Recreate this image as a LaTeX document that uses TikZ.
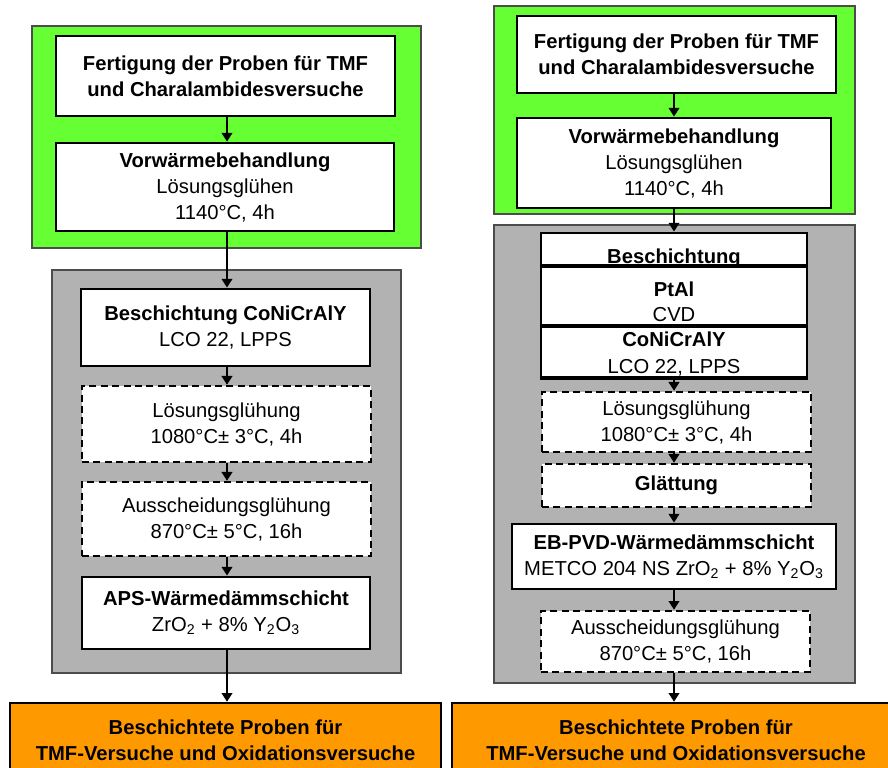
\documentclass[tikz,border=0pt]{standalone}
\usepackage{fontspec}
\setmainfont{Liberation Sans}
\usepackage{xcolor}
\usepackage{tikz}
\usetikzlibrary{arrows.meta}
\usetikzlibrary{shapes}

\definecolor{kastengruen}{HTML}{66FF33}
\definecolor{kastengrau}{HTML}{B2B2B2}
\definecolor{kastenorange}{HTML}{FF9900}

\newcommand{\schrift}{\fontsize{11.5}{14.8}\selectfont}

\tikzset{
  schritt/.style={draw, line width=1.6pt, fill=white, align=center, inner sep=0pt},
  optschritt/.style={schritt, line width=1.4pt, dash pattern=on 4pt off 2.5pt},
  ziel/.style={schritt, line width=1.4pt, fill=kastenorange, font=\schrift\bfseries},
  flow/.style={line width=1.3pt, -{Triangle[length=5pt,width=6pt]}},
  bereich/.style={draw=black!70, line width=0.6pt}
}

\begin{document}
\begin{tikzpicture}[x=0.02cm, y=-0.02cm, font=\schrift]
  \useasboundingbox (0,0) rectangle (888,767);
  \clip (0,0) rectangle (888,767);
  \coordinate (lachse) at (227,0);
  \coordinate (rachse) at (674,0);

        % linke Seite
        \filldraw[bereich, fill=kastengruen] (32,26) rectangle (421,248);
        \filldraw[bereich, fill=kastengrau] (52,270) rectangle (401,673);

        \node[schritt, minimum width=6.78cm, minimum height=1.6cm] (lfert) at (225.5,76)
            {{\bfseries Fertigung der Proben für TMF}\\{\bfseries und Charalambidesversuche}};
        \node[schritt, minimum width=6.76cm, minimum height=1.76cm] (lvor) at (225,187)
            {{\bfseries Vorwärmebehandlung}\\Lösungsglühen\\1140°C, 4h};
        \node[schritt, minimum width=5.78cm, minimum height=1.54cm] (lbes) at (225.5,327.5)
            {{\bfseries Beschichtung CoNiCrAlY}\\LCO 22, LPPS};
        \node[optschritt, minimum width=5.78cm, minimum height=1.52cm] (lloes) at (226.5,424)
            {Lösungsglühung\\1080°C± 3°C, 4h};
        \node[optschritt, minimum width=5.78cm, minimum height=1.48cm] (lauss) at (226.5,519)
            {Ausscheidungsglühung\\870°C± 5°C, 16h};
        \node[schritt, minimum width=5.76cm, minimum height=1.44cm] (laps) at (226,613)
            {{\bfseries APS-Wärmedämmschicht}\\ZrO\textsubscript{2} + 8\% Y\textsubscript{2}O\textsubscript{3}};
        \node[ziel, minimum width=8.62cm, minimum height=1.48cm] (lend) at (225.5,740)
            {Beschichtete Proben für\\TMF-Versuche und Oxidationsversuche};

        \draw[flow] (lfert.south -| lachse) -- (lvor.north -| lachse);
        \draw[flow] (lvor.south -| lachse) -- (lbes.north -| lachse);
        \draw[flow] (lbes.south -| lachse) -- (lloes.north -| lachse);
        \draw[flow] (lloes.south -| lachse) -- (lauss.north -| lachse);
        \draw[flow] (lauss.south -| lachse) -- (laps.north -| lachse);
        \draw[flow] (laps.south -| lachse) -- (lend.north -| lachse);

        % rechte Seite
        \filldraw[bereich, fill=kastengruen] (494,6) rectangle (855,214);
        \filldraw[bereich, fill=kastengrau] (494,225) rectangle (855,683);

        \node[schritt, minimum width=6.38cm, minimum height=1.54cm] (rfert) at (676.5,54.5)
            {{\bfseries Fertigung der Proben für TMF}\\{\bfseries und Charalambidesversuche}};
        \node[schritt, minimum width=6.28cm, minimum height=1.8cm] (rvor) at (674,163)
            {{\bfseries Vorwärmebehandlung}\\Lösungsglühen\\1140°C, 4h};

        \node[schritt, minimum width=5.32cm, minimum height=0.64cm] (rbesa) at (674,249) {};
        \node[schritt, minimum width=5.32cm, minimum height=1.2cm] (rbesb) at (674,295) {};
        \node[schritt, minimum width=5.32cm, minimum height=1.04cm] (rbesc) at (674,351) {};
        \node[anchor=base, font=\schrift\bfseries] (rbesat) at (674,263) {Beschichtung};
        \node[anchor=base, font=\schrift\bfseries] (rbesbt) at (674,296) {PtAl};
        \node[anchor=base] (rbesbu) at (674,321) {CVD};
        \node[anchor=base, font=\schrift\bfseries] (rbesct) at (674,346) {CoNiCrAlY};
        \node[anchor=base] (rbescu) at (674,373) {LCO 22, LPPS};
        \draw[line width=1.6pt] (rbesa.south west) -- (rbesa.south east);
        \draw[line width=1.6pt] (rbesb.south west) -- (rbesb.south east);
        \draw[line width=1.6pt] (rbesc.south west) -- (rbesc.south east);

        \node[optschritt, minimum width=5.38cm, minimum height=1.2cm] (rloes) at (676.5,422)
            {Lösungsglühung\\1080°C± 3°C, 4h};
        \node[optschritt, minimum width=5.38cm, minimum height=0.86cm, font=\schrift\bfseries] (rglatt) at (676.5,485.5)
            {Glättung};
        \node[schritt, minimum width=6.48cm, minimum height=1.3cm] (rebpvd) at (674,556.5)
            {{\bfseries EB-PVD-Wärmedämmschicht}\\METCO 204 NS ZrO\textsubscript{2} + 8\% Y\textsubscript{2}O\textsubscript{3}};
        \node[optschritt, minimum width=5.38cm, minimum height=1.22cm] (rauss) at (675.5,641.5)
            {Ausscheidungsglühung\\870°C± 5°C, 16h};
        \node[ziel, minimum width=8.96cm, minimum height=1.48cm] (rend) at (676,740)
            {Beschichtete Proben für\\TMF-Versuche und Oxidationsversuche};

        \draw[flow] (rfert.south -| rachse) -- (rvor.north -| rachse);
        \draw[flow] (rvor.south -| rachse) -- (rbesa.north -| rachse);
        \draw[flow] (rbesc.south -| rachse) -- (rloes.north -| rachse);
        \draw[flow] (rloes.south -| rachse) -- (rglatt.north -| rachse);
        \draw[flow] (rglatt.south -| rachse) -- (rebpvd.north -| rachse);
        \draw[flow] (rebpvd.south -| rachse) -- (rauss.north -| rachse);
        \draw[flow] (rauss.south -| rachse) -- (rend.north -| rachse);
\end{tikzpicture}
\end{document}
